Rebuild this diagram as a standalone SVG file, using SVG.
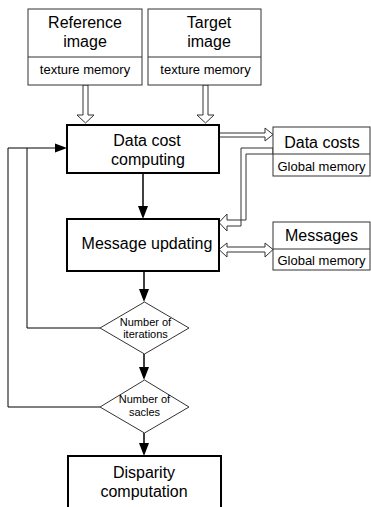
<svg xmlns="http://www.w3.org/2000/svg" width="371" height="507" viewBox="0 0 371 507">
<style>
text{font-family:"Liberation Sans",Arial,sans-serif;fill:#000;text-anchor:middle}
.big{font-size:16px}
.sm{font-size:13px}
.dm{font-size:11px}
.thin{fill:#fff;stroke:#333;stroke-width:1}
.proc{fill:#fff;stroke:#000;stroke-width:2}
.hollow{fill:#fff;stroke:#333;stroke-width:1;stroke-linejoin:miter}
.line{fill:none;stroke:#000;stroke-width:1}
.sep{fill:none;stroke:#333;stroke-width:1}
.flow{fill:none;stroke:#000;stroke-width:1.5}
</style>
<rect width="371" height="507" fill="#fff"/>
<g id="connectors">
<polygon class="hollow" points="83,85 88,85 88,115 94,115 85.5,123 77,115 83,115"/>
<polygon class="hollow" points="203,85 208,85 208,115 214,115 205.5,123 197,115 203,115"/>
<polygon class="hollow" points="219,133 265,133 265,128 273,134.5 265,141 265,137 219,137"/>
<polygon class="hollow" points="273,148 241,148 241,226 227,226 227,231 219,222.5 227,214 227,220 246,220 246,154 273,154"/>
<polygon class="hollow" points="219,249.5 227,243 227,247 265,247 265,243 273,249.5 265,257 265,252 227,252 227,257"/>
<line class="flow" x1="143" y1="173" x2="143" y2="207"/>
<polygon points="138,206 148,206 143,219"/>
<line class="flow" x1="144" y1="271" x2="144" y2="290"/>
<polygon points="139,289 149,289 144,302"/>
<line class="flow" x1="144" y1="354" x2="144" y2="368"/>
<polygon points="139,367 149,367 144,380"/>
<line class="flow" x1="144" y1="433" x2="144" y2="444"/>
<polygon points="139,443 149,443 144,456"/>
<polyline class="line" points="100,328 27,328 27,148 56,148"/>
<polyline class="line" points="100,407 8,407 8,148 27,148"/>
<polygon points="55,143.5 55,152.5 67,148"/>
</g>
<g id="reference">
<rect class="thin" x="28" y="9" width="114" height="76"/>
<line class="sep" x1="28" y1="57" x2="142" y2="57"/>
<text class="big" x="85" y="28">Reference</text>
<text class="big" x="85" y="47">image</text>
<text class="sm" x="85" y="74">texture memory</text>
</g>
<g id="target">
<rect class="thin" x="148" y="9" width="113" height="76"/>
<line class="sep" x1="148" y1="57" x2="261" y2="57"/>
<text class="big" x="209" y="28">Target</text>
<text class="big" x="209" y="47">image</text>
<text class="sm" x="205.5" y="74">texture memory</text>
</g>
<g id="datacost">
<rect class="proc" x="67" y="125" width="152" height="48"/>
<text class="big" x="147" y="146">Data cost</text>
<text class="big" x="148" y="165">computing</text>
</g>
<g id="datacosts">
<rect class="thin" x="273" y="127" width="97" height="49"/>
<line class="sep" x1="273" y1="154" x2="370" y2="154"/>
<text class="big" x="322" y="148">Data costs</text>
<text class="sm" x="321.5" y="170.5">Global memory</text>
</g>
<g id="msgupdate">
<rect class="proc" x="67" y="219" width="152" height="52"/>
<text class="big" x="147" y="249">Message updating</text>
</g>
<g id="messages">
<rect class="thin" x="273" y="222" width="97" height="48"/>
<line class="sep" x1="273" y1="249" x2="370" y2="249"/>
<text class="big" x="321.5" y="241">Messages</text>
<text class="sm" x="321.5" y="265">Global memory</text>
</g>
<g id="iterations">
<polygon class="thin" points="144.5,302 189,328 144.5,354 100,328"/>
<text class="dm" x="145.5" y="326">Number of</text>
<text class="dm" x="145.5" y="338">iterations</text>
</g>
<g id="scales">
<polygon class="thin" points="144.5,380 189,407 144.5,433 100,407"/>
<text class="dm" x="144.5" y="403">Number of</text>
<text class="dm" x="144.5" y="416">sacles</text>
</g>
<g id="disparity">
<rect class="proc" x="68" y="456" width="153" height="60"/>
<text class="big" x="144" y="478">Disparity</text>
<text class="big" x="144" y="497">computation</text>
</g>
</svg>
